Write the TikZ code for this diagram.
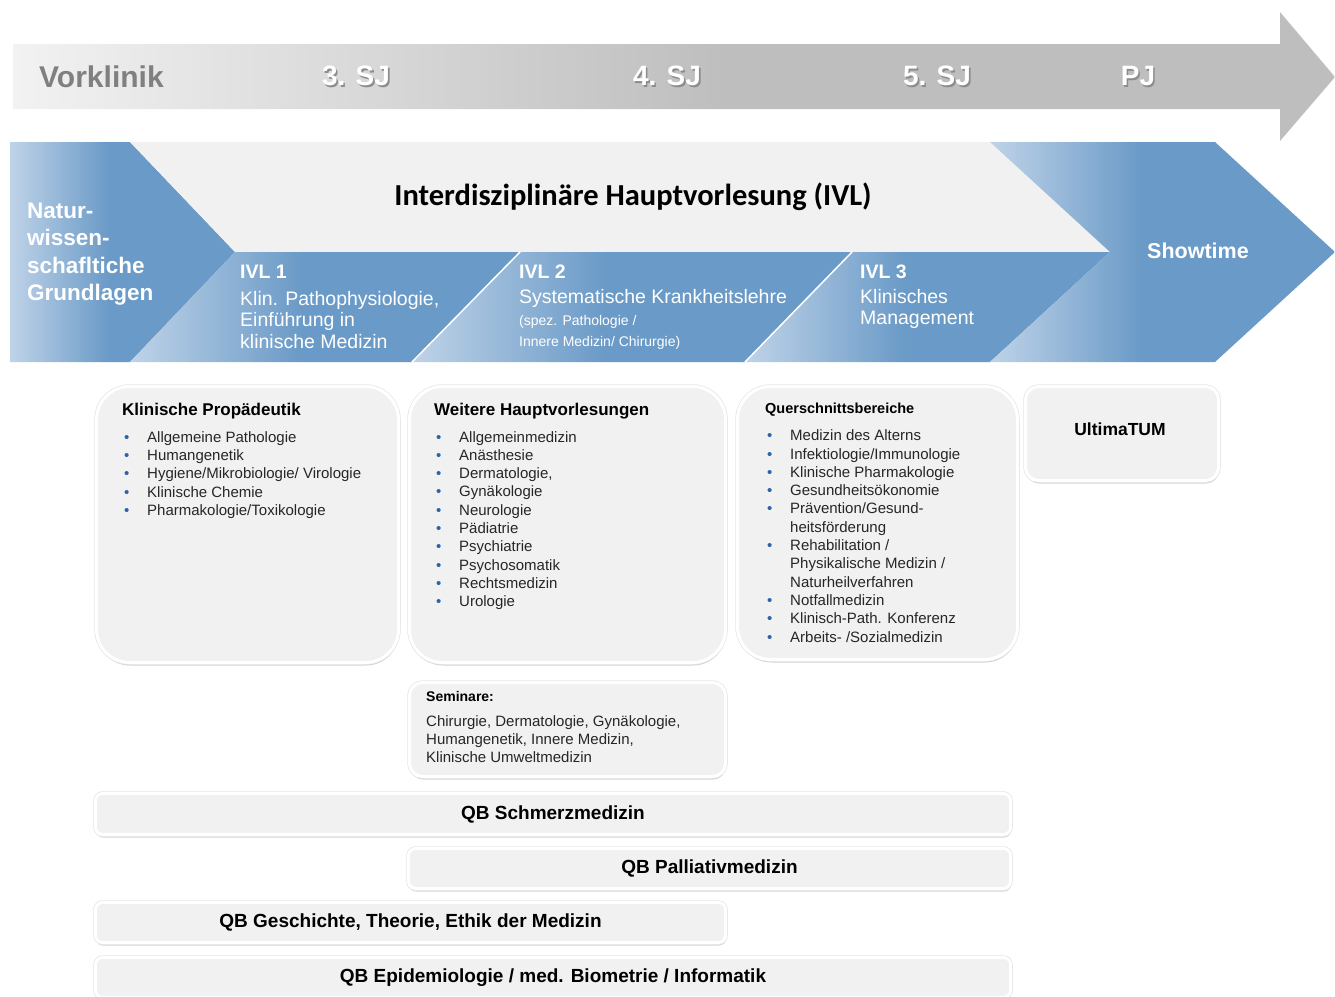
\documentclass[tikz,border=0pt]{standalone}
\usepackage{fontspec}
\setmainfont{Liberation Sans}
\newfontfamily\calibfont{Carlito}
\usetikzlibrary{shadows}
\definecolor{bandL}{HTML}{BFD3E8}
\definecolor{bandD}{HTML}{6A9AC7}
\definecolor{barL}{HTML}{F2F2F2}
\definecolor{barD}{HTML}{BEBEBE}
\definecolor{panel}{HTML}{F1F1F1}
\definecolor{bulblue}{HTML}{2A64A8}
\definecolor{txtgray}{HTML}{262626}
\pgfdeclarehorizontalshading{bandfade}{100bp}{color(0bp)=(bandL); color(25bp)=(bandL); color(47bp)=(bandD); color(100bp)=(bandD)}
\pgfdeclarehorizontalshading{yearfade}{100bp}{color(0bp)=(barL); color(25bp)=(barL); color(52bp)=(barD); color(100bp)=(barD)}
\newcommand\lift[1]{\rlap{\kern1.6pt\raisebox{-1.6pt}{\textcolor{black!45}{#1}}}\textcolor{white}{#1}}
\newcommand\itm[1]{\makebox[23pt][l]{\textcolor{bulblue}{\textbullet}}#1}
\newcommand\cnt[1]{\hspace*{23pt}#1}

\begin{document}
\begin{tikzpicture}[x=1pt,y=-1pt,line join=round]
\tikzset{
  year/.style={font=\fontsize{28}{30}\selectfont\bfseries},
  ivlhead/.style={font=\fontsize{19.5}{21}\selectfont\bfseries, text=white, anchor=west, inner sep=0pt},
  ivltext/.style={font=\fontsize{19.5}{21.5}\selectfont, text=white, anchor=west, align=left, inner sep=0pt},
  card/.style={fill=panel, draw=white, line width=3pt, rounded corners=#1, anchor=north west, inner sep=0pt,
    drop shadow={shadow xshift=0.5pt, shadow yshift=-3pt, opacity=0.35},
    preaction={draw=black!10, line width=4.5pt}},
  cardtitle/.style={font=\fontsize{17}{20}\selectfont\bfseries, text=black, anchor=west, inner sep=0pt},
  cardlist/.style={font=\fontsize{15}{18.3}\selectfont, text=txtgray, anchor=west, align=left, inner sep=0pt},
  qbtext/.style={font=\fontsize{19}{21}\selectfont\bfseries, text=black}
}
\useasboundingbox (0,0) rectangle (1335,996);

% time line
\shade[shading=yearfade] (13,44) -- (1280,44) -- (1280,12) -- (1335,77) -- (1280,141) -- (1280,109) -- (13,109) -- cycle;
\node[year, font=\fontsize{30}{32}\selectfont\bfseries, text=black!50, anchor=west, inner sep=0pt] (vorklinik) at (39,77) {Vorklinik};
\node[year] (sjThree) at (356,77) {\lift{3. SJ}};
\node[year] (sjFour) at (667,77) {\lift{4. SJ}};
\node[year] (sjFive) at (937,77) {\lift{5. SJ}};
\node[year] (pj) at (1138,77) {\lift{PJ}};

% blue band
\shade[shading=bandfade] (10,142) -- (130,142) -- (235,252) -- (130,362) -- (10,362) -- cycle;
\fill[panel] (130,142) -- (990,142) -- (1110,252) -- (235,252) -- cycle;
\shade[shading=bandfade] (235,252) -- (520,252) -- (412,362) -- (130,362) -- cycle;
\shade[shading=bandfade] (520,252) -- (852,252) -- (745,362) -- (412,362) -- cycle;
\shade[shading=bandfade] (852,252) -- (1110,252) -- (990,362) -- (745,362) -- cycle;
\shade[shading=bandfade] (990,142) -- (1215,142) -- (1335,252) -- (1215,362) -- (990,362) -- (1110,252) -- cycle;
\draw[white, line width=1.5pt] (520,252) -- (412,362) (852,252) -- (745,362);

\node[font=\fontsize{22.5}{27.5}\selectfont\bfseries, text=white, align=left, anchor=west, inner sep=0pt] (natur) at (27,254) {Natur-\\wissen-\\schafltiche\\Grundlagen};
\node[font={\calibfont\bfseries\fontsize{30.5}{33}\selectfont}] (ivlTitle) at (633,197) {Interdisziplinäre Hauptvorlesung (IVL)};
\node[ivlhead] (ivlOne) at (240,272) {IVL 1};
\node[ivltext] (ivlOneText) at (240,320) {Klin. Pathophysiologie,\\Einführung in\\klinische Medizin};
\node[ivlhead] (ivlTwo) at (519,272) {IVL 2};
\node[ivltext] (ivlTwoText) at (519,298) {Systematische Krankheitslehre};
\node[font=\fontsize{14}{21}\selectfont, text=white, anchor=west, align=left, inner sep=0pt] (ivlTwoSub) at (519,332) {(spez. Pathologie /\\Innere Medizin/ Chirurgie)};
\node[ivlhead] (ivlThree) at (860,272) {IVL 3};
\node[ivltext] (ivlThreeText) at (860,309) {Klinisches\\Management};
\node[font=\fontsize{21.5}{24}\selectfont\bfseries, text=white] (showtime) at (1198,251) {Showtime};

% cards
\node[card=33pt, minimum width=302pt, minimum height=276pt] (propBox) at (95,385) {};
\node[cardtitle] (propTitle) at (122,411) {Klinische Propädeutik};
\node[cardlist] (propList) at (124,475) {\itm{Allgemeine Pathologie}\\\itm{Humangenetik}\\\itm{Hygiene/Mikrobiologie/ Virologie}\\\itm{Klinische Chemie}\\\itm{Pharmakologie/Toxikologie}};

\node[card=33pt, minimum width=316pt, minimum height=276pt] (hvBox) at (408,385) {};
\node[cardtitle] (hvTitle) at (434,411) {Weitere Hauptvorlesungen};
\node[cardlist] (hvList) at (436,520.5) {\itm{Allgemeinmedizin}\\\itm{Anästhesie}\\\itm{Dermatologie,}\\\itm{Gynäkologie}\\\itm{Neurologie}\\\itm{Pädiatrie}\\\itm{Psychiatrie}\\\itm{Psychosomatik}\\\itm{Rechtsmedizin}\\\itm{Urologie}};

\node[card=33pt, minimum width=280pt, minimum height=273pt] (qsBox) at (736,385) {};
\node[cardtitle, font=\fontsize{14.5}{17}\selectfont\bfseries] (qsTitle) at (765,410) {Querschnittsbereiche};
\node[cardlist] (qsList) at (767,536) {\itm{Medizin des Alterns}\\\itm{Infektiologie/Immunologie}\\\itm{Klinische Pharmakologie}\\\itm{Gesundheitsökonomie}\\\itm{Prävention/Gesund-}\\\cnt{heitsförderung}\\\itm{Rehabilitation /}\\\cnt{Physikalische Medizin /}\\\cnt{Naturheilverfahren}\\\itm{Notfallmedizin}\\\itm{Klinisch-Path. Konferenz}\\\itm{Arbeits- /Sozialmedizin}};

\node[card=13pt, minimum width=193pt, minimum height=94pt] (ultimaBox) at (1024,385) {};
\node[qbtext, font=\fontsize{17.5}{20}\selectfont\bfseries] (ultimaText) at (1120,429) {UltimaTUM};

\node[card=13pt, minimum width=316pt, minimum height=94pt] (semBox) at (408,681) {};
\node[cardtitle, font=\fontsize{14}{17}\selectfont\bfseries] (semTitle) at (426,696) {Seminare:};
\node[cardlist] (semList) at (426,739) {Chirurgie, Dermatologie, Gynäkologie,\\Humangenetik, Innere Medizin,\\Klinische Umweltmedizin};

% QB bars
\node[card=7pt, minimum width=915pt, minimum height=41pt, qbtext] (qbSchmerz) at (94,792) {QB Schmerzmedizin};
\node[card=7pt, minimum width=602pt, minimum height=40pt, qbtext] (qbPalliativ) at (407,847) {QB Palliativmedizin};
\node[card=7pt, minimum width=630pt, minimum height=40pt, qbtext] (qbEthik) at (94,901) {QB Geschichte, Theorie, Ethik der Medizin};
\node[card=7pt, minimum width=915pt, minimum height=40pt, qbtext] (qbEpi) at (94,956) {QB Epidemiologie / med. Biometrie / Informatik};
\end{tikzpicture}
\end{document}
